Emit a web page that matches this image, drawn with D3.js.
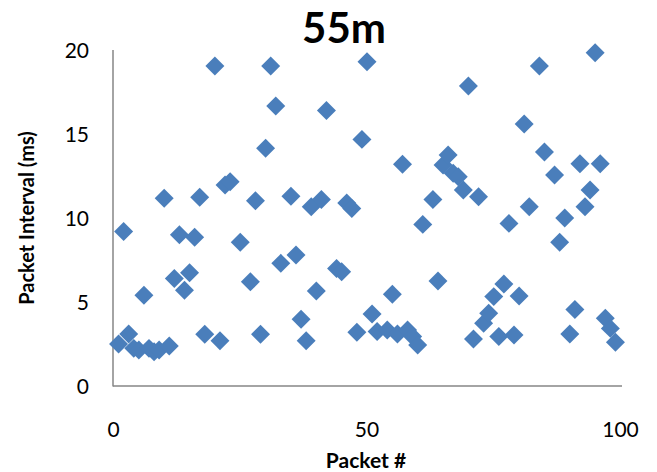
<!DOCTYPE html>
<html><head><meta charset="utf-8">
<script src="https://cdn.jsdelivr.net/npm/d3@7"></script>
<style>body{margin:0;background:#fff}svg{display:block}</style>
</head><body>
<script>
const title = "55m";
const xLabel = "Packet #";
const yLabel = "Packet Interval (ms)";
const xTicks = [0, 50, 100];
const yTicks = [0, 5, 10, 15, 20];
const packets = [1,2,3,4,5,6,7,8,9,10,11,12,13,14,15,16,17,18,20,21,22,23,25,27,28,29,30,31,32,33,35,36,37,38,39,40,41,42,44,45,46,47,48,49,50,51,52,54,55,56,57,58,59,60,61,63,64,65,66,67,68,69,70,71,72,73,74,75,76,77,78,79,80,81,82,84,85,87,88,89,90,91,92,93,94,95,96,97,98,99];
const intervals = [2.5,9.2,3.1,2.24,2.14,5.4,2.24,2.04,2.14,11.17,2.38,6.4,9.0,5.7,6.74,8.85,11.23,3.08,19.05,2.7,11.96,12.16,8.55,6.2,11.03,3.08,14.15,19.05,16.67,7.3,11.3,7.8,3.97,2.7,10.67,5.65,11.1,16.4,7.0,6.8,10.9,10.57,3.2,14.68,19.3,4.29,3.24,3.33,5.46,3.1,13.2,3.33,2.94,2.44,9.62,11.1,6.25,13.15,13.75,12.66,12.46,11.67,17.86,2.8,11.27,3.73,4.33,5.32,2.94,6.07,9.68,3.04,5.36,15.6,10.67,19.05,13.93,12.56,8.55,10.0,3.1,4.56,13.23,10.67,11.67,19.84,13.23,4.03,3.43,2.6];

const W = 657, H = 472;
const svg = d3.select("body").append("svg").attr("width", W).attr("height", H);
const font = "Lato, 'Open Sans', sans-serif";

const x = d3.scaleLinear().domain([0, 100]).range([113.5, 620.5]);
const y = d3.scaleLinear().domain([0, 20]).range([386, 50]);

// axis lines
svg.append("line").attr("x1", 113).attr("x2", 113).attr("y1", 50).attr("y2", 386.5)
  .attr("stroke", "#868686").attr("stroke-width", 1.5);
svg.append("line").attr("x1", 113).attr("x2", 622).attr("y1", 386).attr("y2", 386)
  .attr("stroke", "#868686").attr("stroke-width", 1.5);

// y tick labels
svg.append("g").selectAll("text").data(yTicks).join("text")
  .attr("x", 89).attr("y", d => y(d)).attr("dy", "0.36em")
  .attr("text-anchor", "end").attr("font-family", font).attr("font-size", 21)
  .attr("fill", "#000").text(d => d);

// x tick labels
svg.append("g").selectAll("text").data(xTicks).join("text")
  .attr("x", d => x(d)).attr("y", 437)
  .attr("text-anchor", "middle").attr("font-family", font).attr("font-size", 21)
  .attr("fill", "#000").text(d => d);

// points
const sym = d3.symbol().type(d3.symbolSquare).size(180);
svg.append("g").selectAll("path").data(packets.map((p, i) => [p, intervals[i]])).join("path")
  .attr("d", sym)
  .attr("transform", d => `translate(${x(d[0])},${y(d[1])}) rotate(45)`)
  .attr("fill", "#4a7ebb");

// titles
svg.append("text").attr("x", 344).attr("y", 43).attr("text-anchor", "middle")
  .attr("font-family", font).attr("font-weight", "bold").attr("font-size", 42)
  .text(title);
svg.append("text").attr("x", 366).attr("y", 468).attr("text-anchor", "middle")
  .attr("font-family", font).attr("font-weight", "bold").attr("font-size", 21)
  .text(xLabel);
svg.append("text").attr("transform", "translate(34,218) rotate(-90)").attr("text-anchor", "middle")
  .attr("font-family", font).attr("font-weight", "bold").attr("font-size", 20)
  .text(yLabel);
</script>
</body></html>
